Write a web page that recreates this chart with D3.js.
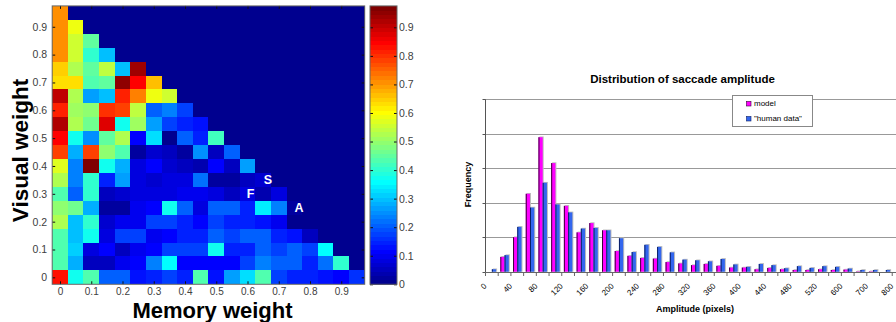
<!DOCTYPE html>
<html><head><meta charset="utf-8">
<script src="https://cdn.jsdelivr.net/npm/d3@7"></script>
<style>
body{margin:0;background:#fff}
svg{display:block}
text{font-family:"Liberation Sans",Arial,Helvetica,sans-serif}
</style>
</head><body>
<svg id="c" width="896" height="322"></svg>
<script>
// ---------------- DATA ----------------
// Heatmap: memory weight (x) and visual weight (y), 0..0.95 step 0.05
const memoryWeights = [0,0.05,0.1,0.15,0.2,0.25,0.3,0.35,0.4,0.45,0.5,0.55,0.6,0.65,0.7,0.75,0.8,0.85,0.9,0.95];
const visualWeights = [0,0.05,0.1,0.15,0.2,0.25,0.3,0.35,0.4,0.45,0.5,0.55,0.6,0.65,0.7,0.75,0.8,0.85,0.9,0.95];
// rows: visual weight 0 -> 0.95 ; columns: memory weight 0 -> 0.95
const fitness = [
  [0.83,0.38,0.43,0.21,0.20,0.13,0.15,0.17,0.14,0.43,0.13,0.26,0.33,0.44,0.17,0.15,0.15,0.13,0.11,0.16],
  [0.44,0.28,0.05,0.06,0.10,0.12,0.23,0.36,0.12,0.12,0.12,0.11,0.17,0.23,0.20,0.20,0.15,0.22,0.40,0],
  [0.44,0.31,0.09,0.12,0.05,0.10,0.11,0.18,0.18,0.17,0.37,0.15,0.15,0.21,0.18,0.20,0.17,0.36,0,0],
  [0.44,0.30,0.37,0.08,0.18,0.18,0.10,0.12,0.14,0.15,0.20,0.17,0.20,0.21,0.15,0.13,0.05,0,0,0],
  [0.52,0.30,0.40,0.07,0.10,0.10,0.18,0.18,0.15,0.12,0.17,0.15,0.15,0.13,0.10,0,0,0,0,0],
  [0.50,0.46,0.28,0.03,0.03,0.10,0.11,0.37,0.20,0.09,0.20,0.21,0.15,0.34,0.24,0.03,0,0,0,0],
  [0.44,0.20,0.40,0.05,0.07,0.09,0.09,0.09,0.10,0.10,0.08,0.06,0.09,0.04,0.08,0,0,0,0,0],
  [0.53,0.24,0.41,0.15,0.27,0.08,0.07,0.09,0.09,0.22,0.02,0.03,0.06,0.07,0,0,0,0,0,0],
  [0.575,0.24,0.97,0.37,0.28,0.09,0.11,0.07,0.06,0.04,0.12,0.06,0.27,0,0,0,0,0,0,0],
  [0.79,0.28,0.79,0.50,0.43,0.03,0.07,0.05,0.02,0.25,0.06,0.21,0,0,0,0,0,0,0,0],
  [0.85,0.37,0.25,0.45,0.52,0.12,0.32,0.01,0.21,0.15,0.42,0,0,0,0,0,0,0,0,0],
  [0.92,0.52,0.46,0.88,0.37,0.51,0.27,0.17,0.14,0.13,0,0,0,0,0,0,0,0,0,0],
  [0.82,0.51,0.49,0.80,0.79,0.54,0.21,0.23,0.18,0,0,0,0,0,0,0,0,0,0,0],
  [0.90,0.52,0.26,0.30,0.82,0.72,0.59,0.55,0,0,0,0,0,0,0,0,0,0,0,0],
  [0.635,0.63,0.43,0.45,0.95,0.84,0.67,0,0,0,0,0,0,0,0,0,0,0,0,0],
  [0.65,0.52,0.45,0.54,0.30,0.93,0,0,0,0,0,0,0,0,0,0,0,0,0,0],
  [0.71,0.55,0.41,0.30,0,0,0,0,0,0,0,0,0,0,0,0,0,0,0,0],
  [0.71,0.56,0.45,0,0,0,0,0,0,0,0,0,0,0,0,0,0,0,0,0],
  [0.71,0.59,0,0,0,0,0,0,0,0,0,0,0,0,0,0,0,0,0,0],
  [0.71,0,0,0,0,0,0,0,0,0,0,0,0,0,0,0,0,0,0,0]
];
const heatTicks = [0,0.1,0.2,0.3,0.4,0.5,0.6,0.7,0.8,0.9];
const colorbarTicks = [0,0.1,0.2,0.3,0.4,0.5,0.6,0.7,0.8,0.9];
const colorMax = 0.975;
const markerLabels = ["S","F","A"];
const markerMemory = [0.665,0.61,0.765];
const markerVisual = [0.35,0.30,0.25];

// Bar chart: saccade amplitude distribution
const amplitudeBins = ["0","20","40","60","80","100","120","140","160","180","200","220","240","260","280","300","320","340","360","380","400","420","440","460","480","500","520","560","600","650","700","750","800"];
const modelFreq = [0,4.3,10.0,22.6,39.0,31.5,19.1,11.4,14.1,12.0,6.0,4.6,4.0,3.8,2.8,2.4,1.9,2.25,1.7,1.2,1.2,0.7,1.1,0.7,0.5,0.5,0.7,0.5,0.6,0.1,0.1,0,0];
const humanFreq = [0.7,4.8,13.0,18.6,25.8,19.5,17.2,12.5,12.7,12.0,9.7,5.7,7.8,7.2,5.6,3.5,3.3,3.0,3.7,2.1,1.4,2.25,1.9,1.0,1.6,1.1,1.6,1.4,0.9,0.5,0.5,0.5,0.3];
const freqGrid = [10,20,30,40,50];
const seriesNames = ["model","\"human data\""];
const seriesColors = ["#ff00ff","#3366ee"];
const seriesEdges = ["#3a003a","#0a1f66"];

// ---------------- DRAW ----------------
const svg = d3.select("#c");

// MATLAB jet(64)
function jetIdx(i){ // i = 1..64
  let r=0,g=0,b=0;
  if(i<=8){ b=0.5+0.0625*i; }
  else if(i<=24){ g=0.0625*(i-8); b=1; }
  else if(i<=40){ r=0.0625*(i-24); g=1; b=1-0.0625*(i-24); }
  else if(i<=56){ r=1; g=1-0.0625*(i-40); }
  else { r=1-0.0625*(i-56); }
  return d3.rgb(Math.round(r*255),Math.round(g*255),Math.round(b*255)).formatHex();
}
function jetVal(v){
  const i = Math.min(64, Math.max(1, Math.floor(v/colorMax*64)+1));
  return jetIdx(i);
}

const hx = d3.scaleLinear().domain([-0.025,0.975]).range([52.2,364.7]);
const hy = d3.scaleLinear().domain([-0.025,0.975]).range([284.3,5.9]);
const half = 0.025;
const cells = [];
fitness.forEach((row,r)=>row.forEach((v,c)=>cells.push({m:memoryWeights[c],w:visualWeights[r],v})));
svg.append("g").selectAll("rect").data(cells).join("rect")
  .attr("x",d=>hx(d.m-half)).attr("y",d=>hy(d.w+half))
  .attr("width",d=>hx(d.m+half)-hx(d.m-half))
  .attr("height",d=>hy(d.w-half)-hy(d.w+half))
  .attr("fill",d=>jetVal(d.v))
  .attr("shape-rendering","crispEdges");

const fmt = d3.format(".1~f");
function styleAxis(g, size){
  g.select(".domain").remove();
  g.selectAll(".tick line").attr("stroke","#111").attr("stroke-width",1);
  g.selectAll(".tick text").attr("fill","#404040").attr("font-size",(size||10.5)+"px")
    .attr("font-family","'Liberation Sans',Arial,sans-serif");
}
svg.append("g").attr("transform",`translate(${hx.range()[0]},0)`)
  .call(d3.axisLeft(hy).tickValues(heatTicks).tickSize(-3).tickPadding(5).tickFormat(fmt)).call(styleAxis);
svg.append("g").attr("transform",`translate(0,${hy.range()[0]})`)
  .call(d3.axisBottom(hx).tickValues(heatTicks).tickSize(-3).tickPadding(4).tickFormat(fmt)).call(g=>styleAxis(g,10));
svg.append("g").attr("transform",`translate(0,${hy.range()[1]})`)
  .call(d3.axisTop(hx).tickValues(heatTicks).tickSize(-3).tickFormat("")).call(styleAxis);
svg.append("g").attr("transform",`translate(${hx.range()[1]},0)`)
  .call(d3.axisRight(hy).tickValues(heatTicks).tickSize(-3).tickFormat("")).call(styleAxis);
svg.append("rect").attr("x",hx.range()[0]).attr("y",hy.range()[1])
  .attr("width",hx.range()[1]-hx.range()[0]).attr("height",hy.range()[0]-hy.range()[1])
  .attr("fill","none").attr("stroke","#666").attr("stroke-width",1);

// markers
svg.append("g").selectAll("text").data(markerLabels).join("text")
  .attr("x",(d,i)=>hx(markerMemory[i])).attr("y",(d,i)=>hy(markerVisual[i]))
  .attr("text-anchor","middle").attr("dy","0.36em")
  .attr("fill","#fff").attr("font-weight","bold").attr("font-size","12.5px").text(d=>d);

// axis titles
svg.append("text").attr("x",212.5).attr("y",318).attr("text-anchor","middle")
  .attr("font-weight","bold").attr("font-size","22px").attr("fill","#000").text("Memory weight");
svg.append("text").attr("transform","translate(28,150.5) rotate(-90)").attr("text-anchor","middle")
  .attr("font-weight","bold").attr("font-size","22.5px").attr("fill","#000").text("Visual weight");

// colorbar
const cbx0 = 370, cbx1 = 397;
const cby = d3.scaleLinear().domain([0,colorMax]).range([284.3,5.9]);
svg.append("g").selectAll("rect").data(d3.range(64)).join("rect")
  .attr("x",cbx0).attr("width",cbx1-cbx0)
  .attr("y",i=>cby((i+1)/64*colorMax)).attr("height",i=>cby(i/64*colorMax)-cby((i+1)/64*colorMax)+0.3)
  .attr("fill",i=>jetIdx(i+1)).attr("shape-rendering","crispEdges");
svg.append("g").attr("transform",`translate(${cbx1},0)`)
  .call(d3.axisRight(cby).tickValues(colorbarTicks).tickSize(-3).tickPadding(2).tickFormat(fmt)).call(styleAxis);
svg.append("g").attr("transform",`translate(${cbx0},0)`)
  .call(d3.axisLeft(cby).tickValues(colorbarTicks).tickSize(-3).tickFormat("")).call(styleAxis);
svg.append("rect").attr("x",cbx0).attr("y",5.9).attr("width",cbx1-cbx0).attr("height",284.3-5.9)
  .attr("fill","none").attr("stroke","#666").attr("stroke-width",1);

// ---------------- BAR CHART ----------------
const bx0 = 485.5, step = 12.71;
const bx = d3.scaleBand().domain(amplitudeBins).range([bx0, bx0+step*amplitudeBins.length]).padding(0);
const inner = d3.scaleBand().domain([0,1]).range([0,bx.bandwidth()]).paddingInner(0).paddingOuter(0.5);
const byS = d3.scaleLinear().domain([0,50]).range([271.7,99.3]);
const crisp = v => Math.round(v)+0.5;

// gridlines
svg.append("g").selectAll("line").data(freqGrid).join("line")
  .attr("x1",bx0).attr("x2",920).attr("y1",d=>crisp(byS(d))).attr("y2",d=>crisp(byS(d)))
  .attr("stroke","#999").attr("stroke-width",1);

// bars
const barData = [];
amplitudeBins.forEach((b,i)=>{
  barData.push({b,s:0,v:modelFreq[i]});
  barData.push({b,s:1,v:humanFreq[i]});
});
const bg = svg.append("g");
const visible = barData.filter(d=>d.v>0);
bg.selectAll("rect.sh").data(visible).join("rect").attr("class","sh")
  .attr("x",d=>bx(d.b)+inner(d.s)+1).attr("y",d=>byS(d.v)-0.8)
  .attr("width",inner.bandwidth()).attr("height",d=>byS(0)-byS(d.v)+0.8)
  .attr("fill","#bdbdbd");
bg.selectAll("rect.bar").data(visible).join("rect").attr("class","bar")
  .attr("x",d=>bx(d.b)+inner(d.s)).attr("y",d=>byS(d.v))
  .attr("width",inner.bandwidth()).attr("height",d=>byS(0)-byS(d.v))
  .attr("fill",d=>seriesColors[d.s]);
bg.selectAll("rect.edge").data(visible).join("rect").attr("class","edge")
  .attr("x",d=>bx(d.b)+inner(d.s)).attr("y",d=>byS(d.v))
  .attr("width",1).attr("height",d=>byS(0)-byS(d.v))
  .attr("fill",d=>seriesEdges[d.s]);

// y axis
svg.append("line").attr("x1",crisp(bx0)-1).attr("x2",crisp(bx0)-1).attr("y1",byS(50)).attr("y2",crisp(byS(0)))
  .attr("stroke","#555");
svg.append("g").selectAll("line").data([0].concat(freqGrid)).join("line")
  .attr("x1",crisp(bx0)-4).attr("x2",crisp(bx0)-1).attr("y1",d=>crisp(byS(d))).attr("y2",d=>crisp(byS(d)))
  .attr("stroke","#555");
// x axis
svg.append("line").attr("x1",crisp(bx0)-1).attr("x2",920).attr("y1",crisp(byS(0))).attr("y2",crisp(byS(0)))
  .attr("stroke","#666");
svg.append("g").selectAll("line").data(amplitudeBins).join("line")
  .attr("x1",d=>bx(d)).attr("x2",d=>bx(d)).attr("y1",crisp(byS(0))).attr("y2",crisp(byS(0))+3.5)
  .attr("stroke","#666");
svg.append("g").selectAll("text").data(amplitudeBins.filter((d,i)=>i%2===0)).join("text")
  .attr("transform",d=>`translate(${bx(d)+bx.bandwidth()/2-4.6},286.5) rotate(-45)`)
  .attr("text-anchor","end").attr("font-size","8px").attr("fill","#000").text(d=>d);

// titles
svg.append("text").attr("x",682.5).attr("y",82.5).attr("text-anchor","middle")
  .attr("font-weight","bold").attr("font-size","11.5px").attr("fill","#000").text("Distribution of saccade amplitude");
svg.append("text").attr("transform","translate(470.5,184.5) rotate(-90)").attr("text-anchor","middle")
  .attr("font-weight","bold").attr("font-size","9px").attr("fill","#000").text("Frequency");
svg.append("text").attr("x",695).attr("y",311.5).attr("text-anchor","middle")
  .attr("font-weight","bold").attr("font-size","9px").attr("fill","#000").text("Amplitude (pixels)");

// legend
const lg = svg.append("g");
lg.append("rect").attr("x",732.5).attr("y",95.5).attr("width",80).attr("height",31)
  .attr("fill","#fff").attr("stroke","#888");
seriesNames.forEach((n,i)=>{
  const yy = 101.5 + i*15;
  lg.append("rect").attr("x",746.5).attr("y",yy).attr("width",4.5).attr("height",4.5)
    .attr("fill",seriesColors[i]).attr("stroke",seriesEdges[i]).attr("stroke-width",0.6);
  lg.append("text").attr("x",754).attr("y",yy+4.8).attr("font-size","8px").attr("fill","#000").text(n);
});
</script>
</body></html>
